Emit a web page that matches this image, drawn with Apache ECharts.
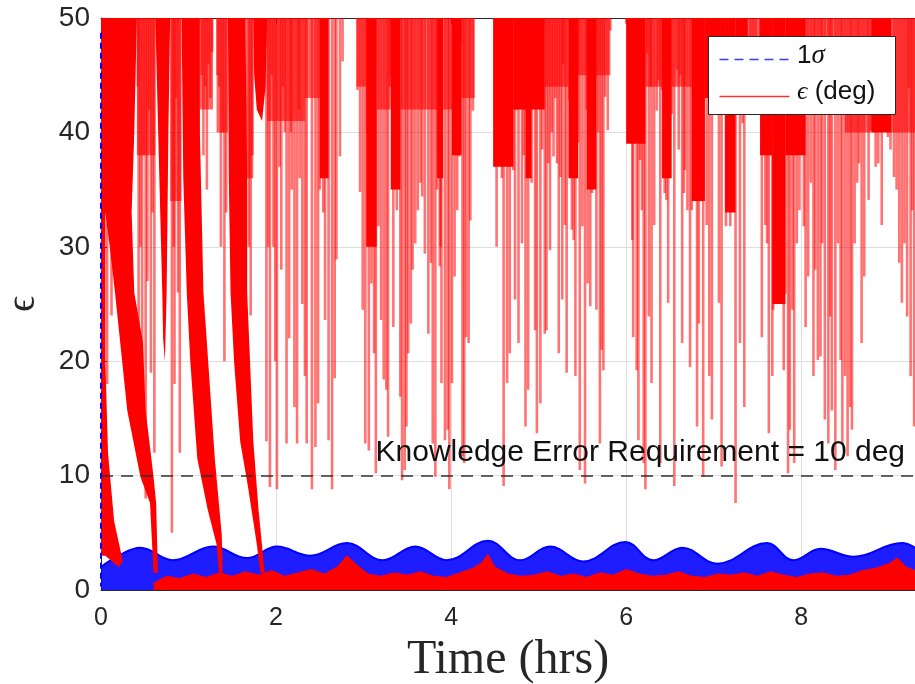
<!DOCTYPE html>
<html><head><meta charset="utf-8">
<script src="https://cdn.jsdelivr.net/npm/echarts@6/dist/echarts.min.js"></script>
<style>html,body{margin:0;padding:0;background:#fff}#c{width:915px;height:684px}</style>
</head><body><div id="c"></div>
<script>
// ---- data (time in hrs, error in deg) ----
const yTicks = [0, 10, 20, 30, 40, 50];
const xTicks = [0, 2, 4, 6, 8];
const requirement = 10;

// 1-sigma envelope (upper edge of the blue band)
const sigmaT = [0,0.2,0.45,0.82,1.28,1.67,2.01,2.39,2.81,3.22,3.59,3.95,4.42,4.79,5.13,5.51,5.99,6.31,6.64,7.04,7.61,7.91,8.22,8.6,9.15,9.3];
const sigmaV = [2.0,3.0,3.7,2.6,3.8,2.8,3.8,3.0,4.1,2.6,3.8,2.6,4.3,2.6,3.8,2.5,4.2,2.6,3.7,2.3,4.1,2.6,3.6,2.9,4.1,3.7];
// initial 1-sigma (dashed, at t = 0)
const sigmaStart = [[0, 48.7], [0, 0.3]];

// settled error (upper edge of the red floor)
const errT = [0.60,0.75,0.90,1.05,1.20,1.35,1.50,1.65,1.80,1.95,2.10,2.25,2.40,2.55,2.70,2.81,2.92,3.05,3.20,3.35,3.50,3.65,3.80,3.95,4.10,4.25,4.35,4.42,4.50,4.65,4.80,4.95,5.10,5.25,5.40,5.55,5.70,5.85,6.00,6.15,6.30,6.45,6.60,6.75,6.90,7.05,7.20,7.35,7.50,7.65,7.80,7.95,8.10,8.25,8.40,8.55,8.70,8.85,9.00,9.10,9.20,9.30];
const errV = [0.6,1.2,1.0,1.4,1.1,1.5,1.2,1.6,1.3,1.7,1.2,1.5,1.8,1.4,2.0,3.0,2.2,1.4,1.2,1.5,1.3,1.6,1.2,1.1,1.5,1.9,2.4,3.1,2.0,1.4,1.2,1.3,1.6,1.2,1.4,1.1,1.5,1.3,1.8,1.4,1.2,1.3,1.6,1.2,1.1,1.4,1.3,1.5,1.2,1.6,1.3,1.1,1.4,1.5,1.2,1.3,1.7,1.9,2.3,2.8,2.0,1.7];

// converging error bundles of the early runs (outline [t, deg])
const bandA = [[0,50],[0.41,50],[0.38,40],[0.35,33],[0.38,26],[0.48,21.6],[0.51,15.7],[0.6,9.9],[0.63,7.6],[0.65,1.5],[0.6,1.5],[0.56,7.6],[0.45,9.9],[0.3,15.7],[0.22,21.6],[0.16,26],[0.1,30],[0.05,33],[0.05,20],[0.08,12],[0.15,6],[0.25,2.5],[0.2,2],[0.05,3],[0,3]];
const bandB = [[0.62,50],[0.79,50],[0.77,40],[0.75,26],[0.73,20],[0.71,22],[0.7,26],[0.66,38]];
const bandC = [[0.92,50],[1.13,50],[1.13,40],[1.17,26],[1.21,21.6],[1.3,11.5],[1.38,4.8],[1.39,1.5],[1.35,1.5],[1.32,4],[1.22,7],[1.1,11.5],[1.02,20],[0.98,26],[0.94,36]];
const bandD = [[1.45,50],[1.65,50],[1.67,36],[1.67,26],[1.74,13],[1.8,7],[1.87,1.5],[1.82,1.5],[1.78,4],[1.68,9],[1.59,13],[1.52,20],[1.48,26],[1.46,36]];
const bandE = [[1.74,50],[1.9,50],[1.88,44],[1.84,41],[1.78,42],[1.75,45]];

// dense groups of spikes that merge into solid red: [t start, t end, lowest deg]
const solidGroups = [[2.50,2.60,36],[3.03,3.15,30],[3.31,3.42,35],[3.84,3.91,36],[4.01,4.12,38],[4.48,4.71,37],
  [4.71,5.07,42],[4.85,4.92,36],[5.34,5.45,36],[5.55,5.66,35],[6.0,6.22,39],[6.41,6.52,36],[6.75,6.9,34],
  [6.9,7.13,43],[7.13,7.25,33],[7.25,7.39,43],[7.53,7.67,38],[7.67,7.82,25],[7.82,8.05,38],[8.8,9.03,40]];
// looser groups that read as striped pink: [t start, t end, lowest deg]
const stripedGroups = [[0.41,0.62,38],[0.79,0.92,34],[1.13,1.28,42],[1.32,1.45,40],[1.65,1.74,36],[1.9,2.33,41],
  [2.33,2.50,43],[2.92,3.03,44],[3.15,3.31,42],[3.42,3.84,42],[3.91,4.01,42],[4.12,4.27,43],
  [5.07,5.34,44],[5.45,5.55,45],[5.66,5.82,45],[6.22,6.41,44],[6.52,6.75,44],
  [7.39,7.53,43],[8.05,8.5,42],[8.5,8.8,40],[9.03,9.3,40]];

// wrap-around spikes: [t, lowest value of the jump]
const spikes = [
[0.03,28],[0.07,18],[0.12,24],[0.42,44],[0.43,22],[0.45,30],[0.47,14],[0.49,38],[0.51,8],[0.53,27],[0.55,42],[0.57,19],[0.59,33],[0.61,12],
[0.81,5],[0.83,30],[0.84,18],[0.86,43],[0.88,26],[0.9,12],
[1.15,45],[1.17,38],[1.19,44],[1.21,35],[1.23,46],[1.25,43],[1.27,47],[1.33,45],[1.35,44],[1.37,30],[1.39,40],[1.41,20],[1.43,33],
[1.69,30],[1.71,24],[1.73,38],
[1.89,13],[1.91,30],[1.93,9],[1.95,45],[1.97,30],[1.99,20],[2.01,8.8],[2.04,37],[2.06,28],[2.08,44],[2.1,40],[2.12,12.8],[2.15,22],[2.17,40],[2.18,35],[2.21,16],[2.24,12.8],[2.26,42],[2.27,36],[2.3,25],[2.33,18.7],
[2.35,12.8],[2.41,8.8],[2.45,12.5],[2.48,16.3],[2.50,35],[2.52,36],[2.54,33],[2.56,23.6],[2.60,13.1],[2.64,8.8],[2.67,18.5],[2.69,28.9],[2.73,37.9],[2.76,46.2],
[2.93,43.7],[2.96,34.8],[2.99,24.5],[3.02,12.8],[3.04,40],[3.06,12.2],[3.08,30],[3.09,26.8],[3.11,36],[3.12,20.7],[3.13,45],[3.14,10.2],[3.17,31.8],[3.20,23.6],[3.23,18.4],[3.26,17.5],[3.28,13.4],[3.30,44],[3.31,44.9],[3.33,40],[3.34,23.0],[3.35,35.0],[3.38,33.2],[3.42,16.9],[3.44,9.6],[3.47,10.5],[3.49,14.3],[3.51,20.7],[3.54,23.3],[3.56,28.0],[3.59,30.3],[3.62,33.2],[3.65,35.6],[3.67,34.4],[3.70,29.4],[3.74,22.4],[3.77,28.6],[3.79,12.8],[3.82,9.9],[3.84,35],[3.86,38],[3.87,28.3],[3.88,30],[3.89,18.1],[3.93,13.1],[3.96,14.0],[3.98,8.8],[4.01,18.1],[4.04,27.4],[4.05,42],[4.07,33.2],[4.08,39],[4.09,37.9],[4.11,47.8],[4.13,11.7],[4.15,11.1],[4.17,22.1],[4.20,21.6],[4.22,32.3],[4.25,41.9],
[4.50,40.8],[4.52,30.0],[4.56,46.2],[4.58,36],[4.60,9.1],
[4.64,18.1],[4.66,40],[4.67,20.7],[4.71,36.7],[4.73,25.4],[4.75,42],[4.77,21.6],[4.81,30.3],[4.83,38],[4.85,14.3],[4.88,17.5],[4.90,41.9],[4.92,35.6],[4.94,44.9],[4.96,22.7],[4.98,13.7],[5.00,44.6],[5.02,16.3],[5.04,38.5],[5.05,45],[5.07,22.4],[5.09,22.7],[5.11,37.3],[5.13,29.7],[5.15,40],[5.17,37.9],[5.19,43],[5.21,37.3],[5.23,20.7],[5.25,36.1],[5.27,25.4],[5.28,46],[5.30,31.9],[5.32,19.0],[5.35,42.8],[5.38,31.5],[5.40,30.6],[5.42,18.7],[5.44,45],[5.45,39.1],[5.47,10.5],[5.50,31.8],[5.53,9.3],[5.55,42],[5.56,26.8],[5.59,24.8],[5.61,34.7],[5.63,36.1],[5.65,44.9],[5.66,24.5],[5.68,40],[5.70,12.8],[5.72,21.0],[5.74,19.2],[5.76,43.1],[5.79,40.2],[5.82,48.9],
[6.00,49.5],[6.03,44.9],[6.05,47.5],[6.07,30.6],[6.08,22.1],[6.10,40],[6.12,19.2],[6.14,13.1],[6.16,37.6],[6.18,33.2],[6.20,11.1],[6.22,8.8],[6.24,46.9],[6.26,23.9],[6.28,44],[6.29,18.1],[6.32,31.9],[6.35,41.9],[6.37,44.6],[6.39,11.1],[6.41,43.7],[6.43,46],[6.44,34.7],[6.46,34.1],[6.48,25.1],[6.50,44.3],[6.52,41.6],[6.55,9.1],[6.58,45.5],[6.60,38.5],[6.62,45],[6.64,21.6],[6.66,34.7],[6.67,36.7],[6.70,33.2],[6.73,19.5],[6.75,33.2],[6.77,37.3],[6.79,42],[6.81,14.3],[6.83,23.3],[6.86,44.9],[6.88,9.9],
[6.92,31.9],[6.95,18.7],[6.98,14.9],[7.02,42.5],[7.06,25.1],[7.09,10.8],[7.11,42.5],[7.14,31.8],[7.17,41.4],[7.19,31.8],[7.21,37.9],[7.23,40.8],[7.25,7.6],[7.28,42.5],[7.30,21.6],[7.33,40.8],[7.35,16.0],[7.38,42.5],[7.42,43],[7.45,44],[7.48,43],
[7.53,42.5],[7.55,22.1],[7.59,31.9],[7.61,30.3],[7.63,13.7],[7.67,18.7],[7.68,24.5],[7.71,30.3],[7.73,37.6],[7.76,32.6],[7.78,33.8],[7.80,19.2],[7.82,25.9],[7.85,10.2],[7.87,14.0],[7.90,24.5],[7.92,11.1],[7.95,30.3],[7.98,33.2],[8.01,40.8],[8.03,31.8],[8.05,23.0],[8.08,27.4],[8.11,35.6],[8.14,18.7],[8.16,28.0],[8.19,20.1],[8.22,20.4],[8.24,30.3],[8.27,14.9],[8.31,12.8],[8.33,23.9],[8.35,15.7],[8.39,10.5],[8.42,30.3],[8.45,20.1],[8.47,12.8],[8.50,18.7],[8.53,11.7],[8.56,16.0],[8.58,14.0],[8.61,30.3],[8.64,35.6],[8.66,37.3],[8.69,21.6],[8.72,27.4],[8.75,41.9],[8.77,34.1],[8.80,40.2],[8.83,42.5],[8.85,37.0],[8.88,37.3],[8.92,31.9],[8.96,40.2],[8.99,39.6],[9.02,38.5],[9.06,36.1],[9.09,35.0],[9.12,28.6],[9.15,25.1],[9.18,30.3],[9.21,23.9],[9.23,43.9],[9.25,18.7],[9.27,33.2],[9.29,14.3]
];
const bands = [bandA, bandB, bandC, bandD, bandE];

// ---- chart ----
const chart = echarts.init(document.getElementById('c'), null, {renderer: 'canvas'});
const Y_TOP = yTicks[yTicks.length - 1];
const sans = 'Liberation Sans, Arial, sans-serif';
const serif = 'Liberation Serif, DejaVu Serif, serif';

function groupSeries(groups, fill) {
  return {
    type: 'custom', z: 3, clip: true, data: groups, encode: {x: [0, 1], y: 2},
    renderItem: (params, api) => {
      const a = api.coord([api.value(0), Y_TOP]);
      const b = api.coord([api.value(1), api.value(2)]);
      return {type: 'rect', shape: {x: a[0], y: a[1], width: b[0] - a[0], height: b[1] - a[1]},
        style: {fill: fill}};
    }
  };
}

const option = {
  animation: false,
  backgroundColor: '#fff',
  grid: {left: 101, right: 0, top: 18, bottom: 94, outerBoundsMode: 'none', containLabel: false},
  xAxis: [{
    type: 'value', min: xTicks[0], max: 9.3, interval: 2,
    name: 'Time (hrs)', nameLocation: 'middle', nameGap: 41,
    nameTextStyle: {fontFamily: serif, fontSize: 48, color: '#262626'},
    axisLine: {show: true, onZero: false, lineStyle: {color: '#262626', width: 1}},
    axisTick: {show: true, inside: true, length: 6, lineStyle: {color: '#262626'}},
    axisLabel: {fontFamily: sans, fontSize: 25, color: '#262626', margin: 16, showMaxLabel: false,
      formatter: v => (xTicks.indexOf(v) >= 0 ? String(v) : '')},
    splitLine: {show: true, lineStyle: {color: '#dedede', width: 1}}
  }, {
    type: 'value', position: 'top', min: xTicks[0], max: 9.3, interval: 2,
    axisLine: {show: true, onZero: false, lineStyle: {color: '#262626', width: 1}},
    axisTick: {show: true, inside: true, length: 6, lineStyle: {color: '#262626'}},
    axisLabel: {show: false}, splitLine: {show: false}
  }],
  yAxis: {
    type: 'value', min: yTicks[0], max: Y_TOP, interval: 10,
    name: 'ϵ', nameLocation: 'middle', nameGap: 58, nameRotate: 90,
    nameTextStyle: {fontFamily: serif, fontSize: 40, color: '#262626'},
    axisLine: {show: true, lineStyle: {color: '#262626', width: 1}},
    axisTick: {show: true, inside: true, length: 6, lineStyle: {color: '#262626'}},
    axisLabel: {fontFamily: sans, fontSize: 28, color: '#262626', margin: 11},
    splitLine: {show: true, lineStyle: {color: '#dedede', width: 1}}
  },
  series: [
    { // blue 1-sigma band
      type: 'line', name: 'sigmaBand', z: 2, smooth: 0.4, symbol: 'none',
      data: sigmaT.map((t, i) => [t, sigmaV[i]]),
      lineStyle: {color: '#0000ff', width: 2},
      areaStyle: {color: '#0a0aff', opacity: 0.92}
    },
    groupSeries(stripedGroups, 'rgba(255,0,0,0.6)'),
    groupSeries(solidGroups, '#ff0000'),
    { // early converging bundles
      type: 'custom', z: 3, clip: true,
      data: bands.map((b, i) => [i]),
      encode: {x: -1, y: -1},
      renderItem: (params, api) => {
        const b = bands[params.dataIndex];
        return {type: 'polygon', shape: {points: b.map(p => api.coord(p))},
          style: {fill: '#ff0000'}};
      }
    },
    { // wrap-around spikes
      type: 'custom', z: 3, clip: true,
      data: spikes,
      encode: {x: 0, y: 1},
      renderItem: (params, api) => {
        const t = api.value(0), lo = api.value(1);
        const p1 = api.coord([t, lo]), p2 = api.coord([t, Y_TOP]);
        return {type: 'line', shape: {x1: p1[0], y1: p1[1], x2: p2[0], y2: p2[1]},
          style: {stroke: 'rgba(255,0,0,0.55)', lineWidth: 2.6}};
      }
    },
    { // red error floor
      type: 'line', name: 'errFloor', z: 4, symbol: 'none',
      data: errT.map((t, i) => [t, errV[i]]),
      lineStyle: {color: '#ff0000', width: 1},
      areaStyle: {color: '#ff0000', opacity: 1}
    },
    { // initial 1 sigma dashed
      type: 'line', name: '1σ', z: 5, symbol: 'none',
      data: sigmaStart,
      lineStyle: {color: '#0000ff', width: 2, type: [6, 4]},
      markLine: {
        silent: true, symbol: 'none',
        data: [{yAxis: requirement}],
        lineStyle: {color: '#333', width: 1.5, type: [12, 8]},
        label: {show: false}
      }
    }
  ],
  graphic: {
    zlevel: 1,
    elements: [
      {type: 'text', right: 10, top: 438, z: 100,
       style: {text: 'Knowledge Error Requirement = 10 deg', font: '30px ' + sans, fill: '#111'}},
      {type: 'rect', left: 708, top: 36, z: 100, shape: {width: 187, height: 78},
       style: {fill: '#fff', stroke: '#262626', lineWidth: 1}},
      {type: 'line', left: 717, top: 57, z: 101, shape: {x1: 0, y1: 0, x2: 70, y2: 0},
       style: {stroke: '#3a3aff', lineWidth: 1.5, lineDash: [9, 6]}},
      {type: 'line', left: 717, top: 94, z: 101, shape: {x1: 0, y1: 0, x2: 70, y2: 0},
       style: {stroke: '#ff3030', lineWidth: 1.5}},
      {type: 'text', left: 797, top: 42, z: 101, style: {
        text: '{a|1}{b|σ}',
        rich: {a: {fontFamily: sans, fontSize: 26, fill: '#111'},
               b: {fontFamily: serif, fontStyle: 'italic', fontSize: 27, fill: '#111'}}}},
      {type: 'text', left: 797, top: 79, z: 101, style: {
        text: '{b|ϵ}{a| (deg)}',
        rich: {a: {fontFamily: sans, fontSize: 26, fill: '#111'},
               b: {fontFamily: serif, fontStyle: 'italic', fontSize: 26, fill: '#111'}}}}
    ]
  }
};
chart.setOption(option);
</script></body></html>
